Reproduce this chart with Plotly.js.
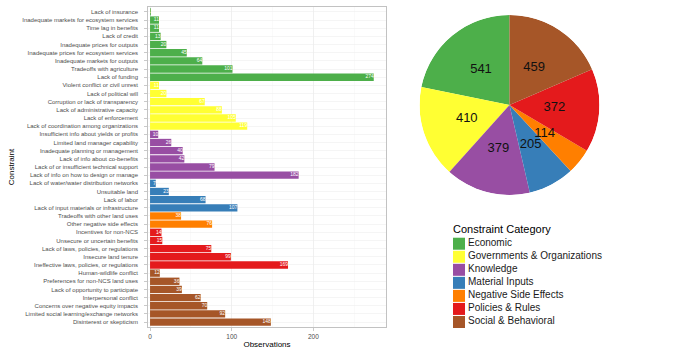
<!DOCTYPE html>
<html><head><meta charset="utf-8">
<script src="https://cdn.plot.ly/plotly-3.0.1.min.js"></script>
<style>html,body{margin:0;padding:0;background:#fff}#chart{width:700px;height:350px}</style>
</head><body><div id="chart"></div><script>
const categoryNames = ["Economic","Governments & Organizations","Knowledge","Material Inputs","Negative Side Effects","Policies & Rules","Social & Behavioral"];
const categoryColors = ["#4DAF4A","#FFFF33","#984EA3","#377EB8","#FF7F00","#E41A1C","#A65628"];

const economicConstraints = ["Lack of insurance","Inadequate markets for ecosystem services","Time lag in benefits","Lack of credit","Inadequate prices for outputs","Inadequate prices for ecosystem services","Inadequate markets for outputs","Tradeoffs with agriculture","Lack of funding"];
const economicCounts = [1,11,11,13,20,45,64,101,274];
const governmentConstraints = ["Violent conflict or civil unrest","Lack of political will","Corruption or lack of transparency","Lack of administrative capacity","Lack of enforcement","Lack of coordination among organizations"];
const governmentCounts = [11,20,67,88,105,119];
const knowledgeConstraints = ["Insufficient info about yields or profits","Limited land manager capability","Inadequate planning or management","Lack of info about co-benefits","Lack of or insufficient technical support","Lack of info on how to design or manage"];
const knowledgeCounts = [10,26,40,42,79,182];
const materialConstraints = ["Lack of water/water distribution networks","Unsuitable land","Lack of labor","Lack of input materials or infrastructure"];
const materialCounts = [7,23,68,107];
const negativeConstraints = ["Tradeoffs with other land uses","Other negative side effects"];
const negativeCounts = [38,76];
const policyConstraints = ["Incentives for non-NCS","Unsecure or uncertain benefits","Lack of laws, policies, or regulations","Insecure land tenure","Ineffective laws, policies, or regulations"];
const policyCounts = [14,15,75,99,169];
const socialConstraints = ["Human-wildlife conflict","Preferences for non-NCS land uses","Lack of opportunity to participate","Interpersonal conflict","Concerns over negative equity impacts","Limited social learning/exchange networks","Disinterest or skepticism"];
const socialCounts = [12,36,39,62,70,92,148];

const pieTotals = [541,410,379,205,114,372,459];
const xTickValues = [0,100,200];

const groups = [
  [economicConstraints, economicCounts],
  [governmentConstraints, governmentCounts],
  [knowledgeConstraints, knowledgeCounts],
  [materialConstraints, materialCounts],
  [negativeConstraints, negativeCounts],
  [policyConstraints, policyCounts],
  [socialConstraints, socialCounts]
];
const allConstraints = groups.flatMap(g => g[0]);
const allCounts = groups.flatMap(g => g[1]);

const FONT = "Liberation Sans, Arial, Helvetica, sans-serif";
const traces = [];
groups.forEach((g, i) => {
  traces.push({
    type: "bar", orientation: "h", x: g[1], y: g[0],
    marker: {color: categoryColors[i], line: {width: 0}},
    width: 0.9, showlegend: false, hoverinfo: "skip",
    xaxis: "x", yaxis: "y"
  });
});
traces.push({
  type: "scatter", mode: "text", x: allCounts, y: allConstraints,
  text: allCounts.map(String), textposition: "middle left",
  textfont: {size: 5, color: "#ffffff", family: FONT},
  showlegend: false, hoverinfo: "skip", xaxis: "x", yaxis: "y"
});

// pie drawn as full-radius polar bars so labels can sit on top
const pieDomain = {x: [419/700, 600/700], y: [1 - 195/350, 1 - 15/350]};
const total = pieTotals.reduce((a, b) => a + b, 0);
let cum = 0;
const midAngles = pieTotals.map(v => { const m = (cum + v / 2) / total * 360; cum += v; return m; });
const spans = pieTotals.map(v => v / total * 360);
traces.push({
  type: "barpolar", r: pieTotals.map(() => 1), theta: midAngles, width: spans,
  marker: {color: categoryColors, line: {width: 0}},
  showlegend: false, hoverinfo: "skip", subplot: "polar"
});
traces.push({
  type: "scatterpolar", mode: "text", r: pieTotals.map(() => 0.5), theta: midAngles,
  text: pieTotals.map(String), textfont: {size: 13, color: "#111111", family: FONT},
  showlegend: false, hoverinfo: "skip", subplot: "polar", cliponaxis: false
});

// legend built as keyed points
traces.push({
  type: "scatter", mode: "markers", x: categoryNames.map(() => 7), y: categoryNames,
  marker: {symbol: "square", size: 12, color: categoryColors, line: {width: 0}},
  showlegend: false, hoverinfo: "skip", xaxis: "x3", yaxis: "y3", cliponaxis: false
});
traces.push({
  type: "scatter", mode: "text", x: categoryNames.map(() => 16), y: categoryNames,
  text: categoryNames, textposition: "middle right",
  textfont: {size: 10, color: "#1a1a1a", family: FONT},
  showlegend: false, hoverinfo: "skip", xaxis: "x3", yaxis: "y3", cliponaxis: false
});

const layout = {
  width: 700, height: 350,
  margin: {l: 0, r: 0, t: 0, b: 0},
  paper_bgcolor: "#ffffff", plot_bgcolor: "#ffffff",
  font: {family: FONT, color: "#4d4d4d"},
  barmode: "overlay",
  showlegend: false,
  xaxis: {
    domain: [148/700, 386/700], range: [-2.5, 289],
    tickvals: xTickValues, ticktext: xTickValues.map(String),
    ticks: "outside", ticklen: 3, tickcolor: "#b3b3b3", tickwidth: 0.7,
    tickfont: {size: 6.5, color: "#4d4d4d"},
    showgrid: true, gridcolor: "#ebebeb", gridwidth: 0.7,
    minor: {dtick: 50, tick0: 0, showgrid: true, gridcolor: "#f3f3f3", gridwidth: 0.4},
    showline: true, mirror: true, linecolor: "#b3b3b3", linewidth: 0.8,
    zeroline: false, anchor: "y",
    title: {text: "Observations", font: {size: 8, color: "#000000"}, standoff: 2}
  },
  yaxis: {
    domain: [23/350, 343/350], type: "category",
    categoryorder: "array", categoryarray: allConstraints,
    range: [allConstraints.length - 0.4, -0.6],
    ticks: "outside", ticklen: 3, tickcolor: "#b3b3b3", tickwidth: 0.7,
    ticklabelstandoff: 5,
    tickfont: {size: 6, color: "#4d4d4d"},
    showgrid: true, gridcolor: "#ececec", gridwidth: 0.5,
    showline: true, mirror: true, linecolor: "#b3b3b3", linewidth: 0.8,
    zeroline: false, anchor: "x",
    title: {text: "Constraint", font: {size: 8, color: "#000000"}, standoff: 6}
  },
  polar: {
    domain: pieDomain, bgcolor: "rgba(0,0,0,0)", hole: 0,
    bargap: 0,
    radialaxis: {range: [0, 1], visible: false, showgrid: false, showline: false, showticklabels: false, ticks: ""},
    angularaxis: {rotation: 90, direction: "counterclockwise", visible: false, showgrid: false, showline: false, showticklabels: false, ticks: ""}
  },
  xaxis3: {domain: [452/700, 1], range: [0, 248], visible: false, fixedrange: true, anchor: "y3"},
  yaxis3: {domain: [1 - 328.5/350, 1 - 237.2/350], type: "category",
    categoryorder: "array", categoryarray: categoryNames,
    range: [categoryNames.length - 0.5, -0.5], visible: false, fixedrange: true, anchor: "x3"},
  annotations: [{
    text: "Constraint Category", xref: "paper", yref: "paper",
    x: 451/700, y: 1 - 229/350, xanchor: "left", yanchor: "middle", showarrow: false,
    font: {size: 11, color: "#000000", family: FONT}
  }]
};
Plotly.newPlot("chart", traces, layout, {staticPlot: true, displayModeBar: false});
</script></body></html>
